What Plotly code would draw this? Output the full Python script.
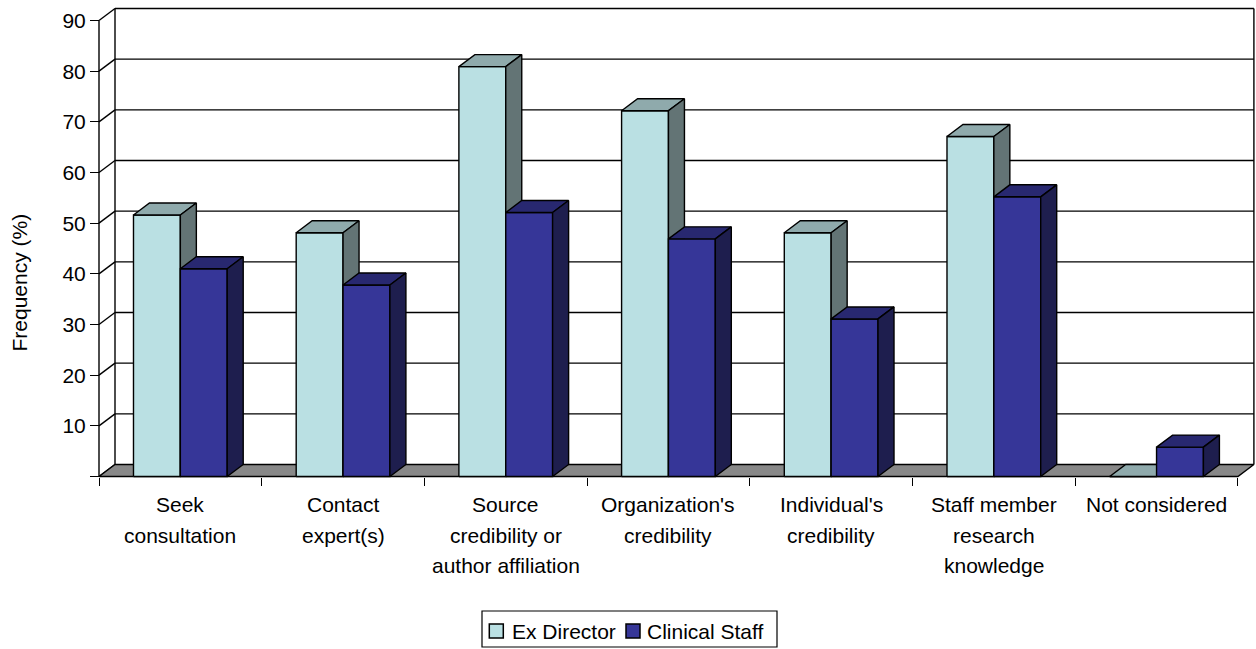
import plotly.graph_objects as go

# ---- data -------------------------------------------------------------
categories = [
    "Seek<br>consultation",
    "Contact<br>expert(s)",
    "Source<br>credibility or<br>author affiliation",
    "Organization's<br>credibility",
    "Individual's<br>credibility",
    "Staff member<br>research<br>knowledge",
    "Not considered",
]
ex_director = [51.6, 48.1, 80.9, 72.2, 48.1, 67.1, 0.0]
clinical_staff = [41.0, 37.8, 52.1, 46.9, 31.1, 55.2, 5.8]
series_names = ["Ex Director", "Clinical Staff"]
y_ticks = [0, 10, 20, 30, 40, 50, 60, 70, 80, 90]
y_tick_labels = ["", "10", "20", "30", "40", "50", "60", "70", "80", "90"]
y_title = "Frequency (%)"

# ---- geometry of the pseudo-3D frame ---------------------------------
W, H = 1256, 649
ML, MB = 90, 163                 # left / bottom margins (px)
PLOT_H = H - MB
ORIGIN_PX = (99, 476.5)          # front-left floor corner (px)
PX_CAT = 162.7                   # px per category slot
PX_VAL = 456.0 / 90.0            # px per percentage point
DX = 16.0 / PX_CAT               # depth offset, category units
DY = 12.0 / PX_VAL               # depth offset, value units
BAR_W = 0.288                    # bar width, category units
N = len(categories)
LEFT, RIGHT = -0.5, N - 0.5
Y_MAX = y_ticks[-1]
LW = 1.4                         # outline width

x_range = [LEFT - (ORIGIN_PX[0] - ML) / PX_CAT, LEFT + (W - ORIGIN_PX[0]) / PX_CAT]
y_range = [-(PLOT_H - ORIGIN_PX[1]) / PX_VAL, ORIGIN_PX[1] / PX_VAL]

FONT = "Arial, 'Liberation Sans', sans-serif"

colors = {
    "Ex Director": {"front": "#BAE0E3", "top": "#8FAAAC", "side": "#637475"},
    "Clinical Staff": {"front": "#363698", "top": "#282870", "side": "#1E1E4E"},
}


def px_to_paper(px, py):
    return (px - ML) / (W - ML), (PLOT_H - py) / PLOT_H


def polygon_trace(polys, fill):
    xs, ys = [], []
    for p in polys:
        for a, b in p + [p[0]]:
            xs.append(a)
            ys.append(b)
        xs.append(None)
        ys.append(None)
    return go.Scatter(
        x=xs, y=ys, mode="lines", fill="toself", fillcolor=fill,
        line=dict(color="black", width=LW), hoverinfo="skip", showlegend=False,
    )


def lines_trace(segs):
    xs, ys = [], []
    for (a0, b0), (a1, b1) in segs:
        xs += [a0, a1, None]
        ys += [b0, b1, None]
    return go.Scatter(
        x=xs, y=ys, mode="lines", line=dict(color="black", width=LW),
        hoverinfo="skip", showlegend=False,
    )


fig = go.Figure()

# walls: back gridlines, left-wall diagonals, wall edges, front value axis
segs = []
for v in y_ticks[1:]:
    segs.append(((LEFT + DX, v + DY), (RIGHT + DX, v + DY)))
for v in y_ticks:
    segs.append(((LEFT, v), (LEFT + DX, v + DY)))
segs.append(((LEFT + DX, DY), (LEFT + DX, Y_MAX + DY)))
segs.append(((RIGHT + DX, DY), (RIGHT + DX, Y_MAX + DY)))
segs.append(((LEFT, 0), (LEFT, Y_MAX)))
fig.add_trace(lines_trace(segs))

# floor
fig.add_trace(polygon_trace(
    [[(LEFT, 0), (RIGHT, 0), (RIGHT + DX, DY), (LEFT + DX, DY)]], "#888888"))

# bars: front, top and side faces, back series drawn first
for name, values, shift in [("Ex Director", ex_director, -BAR_W),
                            ("Clinical Staff", clinical_staff, 0.0)]:
    fronts, tops, sides = [], [], []
    for i, v in enumerate(values):
        l = i + shift
        r = l + BAR_W
        fronts.append([(l, 0), (r, 0), (r, v), (l, v)])
        tops.append([(l, v), (r, v), (r + DX, v + DY), (l + DX, v + DY)])
        sides.append([(r, 0), (r + DX, DY), (r + DX, v + DY), (r, v)])
    c = colors[name]
    fig.add_trace(polygon_trace(fronts, c["front"]))
    fig.add_trace(polygon_trace(tops, c["top"]))
    fig.add_trace(polygon_trace(sides, c["side"]))

# category labels, one annotation per line
annotations = []
LINE_GAP = 30.3
FIRST_LINE = 504.8
for i, cat in enumerate(categories):
    for k, line in enumerate(cat.split("<br>")):
        annotations.append(dict(
            x=i, xref="x", y=0, yref="y", text=line, showarrow=False,
            xanchor="center", yanchor="middle",
            yshift=-(FIRST_LINE + k * LINE_GAP - ORIGIN_PX[1]),
            font=dict(family=FONT, size=21, color="black"),
        ))

# value-axis title
tx, ty = px_to_paper(18.5, 283)
annotations.append(dict(
    x=tx, y=ty, xref="paper", yref="paper", text=y_title, textangle=-90,
    showarrow=False, xanchor="center", yanchor="middle",
    font=dict(family=FONT, size=21, color="black"),
))

# legend box with swatches
shapes = []
bx0, by0 = px_to_paper(482, 647)
bx1, by1 = px_to_paper(777, 611)
shapes.append(dict(type="rect", xref="paper", yref="paper", x0=bx0, y0=by0,
                   x1=bx1, y1=by1, line=dict(color="black", width=1.2),
                   fillcolor="white"))
for name, sq_x, txt_x in [("Ex Director", 496.3, 509.5),
                          ("Clinical Staff", 633.0, 644.5)]:
    sx0, sy0 = px_to_paper(sq_x - 7, 638)
    sx1, sy1 = px_to_paper(sq_x + 7, 624)
    shapes.append(dict(type="rect", xref="paper", yref="paper", x0=sx0, y0=sy0,
                       x1=sx1, y1=sy1, line=dict(color="black", width=1.5),
                       fillcolor=colors[name]["front"]))
    lx, ly = px_to_paper(txt_x, 631.4)
    annotations.append(dict(
        x=lx, y=ly, xref="paper", yref="paper", text=name, showarrow=False,
        xanchor="left", yanchor="middle",
        font=dict(family=FONT, size=21, color="black"),
    ))

boundaries = [i - 0.5 for i in range(N + 1)]

fig.update_layout(
    width=W, height=H,
    margin=dict(l=ML, r=0, t=0, b=MB),
    paper_bgcolor="white", plot_bgcolor="white",
    showlegend=False,
    xaxis=dict(
        range=x_range, anchor="free",
        position=(PLOT_H - ORIGIN_PX[1]) / PLOT_H,
        tickmode="array", tickvals=boundaries, ticktext=[""] * len(boundaries),
        ticks="outside", ticklen=8, tickcolor="black", tickwidth=1.2,
        showgrid=False, zeroline=False, showline=False, fixedrange=True,
    ),
    yaxis=dict(
        range=y_range, anchor="free",
        position=(ORIGIN_PX[0] - ML) / (W - ML),
        tickmode="array", tickvals=y_ticks, ticktext=y_tick_labels,
        ticks="outside", ticklen=9, tickcolor="black", tickwidth=1.2,
        tickfont=dict(family=FONT, size=21, color="black"),
        showgrid=False, zeroline=False, showline=False, fixedrange=True,
    ),
    annotations=annotations,
    shapes=shapes,
)

fig.write_html("out.html")
